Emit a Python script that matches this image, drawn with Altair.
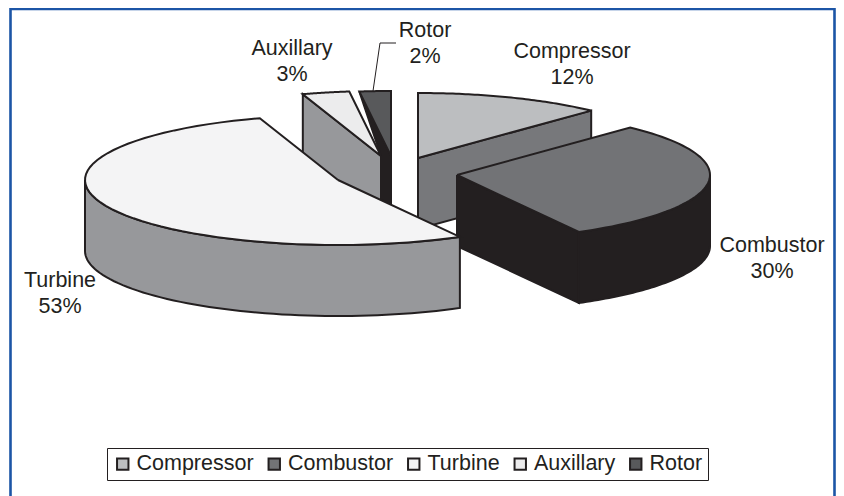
import math
import altair as alt
import pandas as pd

# ---- values ----
parts = ["Compressor", "Combustor", "Turbine", "Auxillary", "Rotor"]
shares = [12, 30, 53, 3, 2]

# ---- styling / layout ----
top_colors = ["#bcbec0", "#727376", "#f4f4f5", "#ececed", "#58595b"]
INK = "#231f20"
BLUE = "#1c55a6"
FONT = "Arial"
FS = 21.5
W, H = 828, 488
RX, RY, DEPTH = 253, 65, 71
apex = {"Compressor": (418, 158), "Combustor": (457, 175), "Turbine": (338, 180),
        "Auxillary": (381, 156), "Rotor": (391, 156)}
label_pos = {"Compressor": (572, 51.5), "Combustor": (772, 245.5), "Turbine": (60, 280.5),
             "Auxillary": (292, 48.5), "Rotor": (425, 30.5)}
LINE_GAP = 26.5

# ---- slice angles from the shares ----
angles = {}
acc = 0.0
for p, s in zip(parts, shares):
    angles[p] = (acc * 3.6, (acc + s) * 3.6)
    acc += s


def rim(p, a0, a1, dy=0.0, n=60):
    cx, cy = apex[p]
    out = []
    for k in range(n + 1):
        t = math.radians(a0 + (a1 - a0) * k / n)
        out.append((cx + RX * math.sin(t), cy - RY * math.cos(t) + dy))
    return out


def table(pts, name="s"):
    pts = list(pts) + [pts[0]]
    return pd.DataFrame({"x": [a for a, _ in pts], "y": [b for _, b in pts],
                         "i": range(len(pts)), "part": name})


def drop(pts):
    return [(a, b + DEPTH) for a, b in pts]


x_scale = alt.Scale(domain=[8, 8 + W], range=[0, W], nice=False, zero=False)
y_scale = alt.Scale(domain=[8 + H, 8], range=[H, 0], nice=False, zero=False)
X = alt.X("x:Q", scale=x_scale, axis=None)
Y = alt.Y("y:Q", scale=y_scale, axis=None)


def face(pts, color, sw=2):
    return alt.Chart(table(pts)).mark_line(fill=color, stroke=INK, strokeWidth=sw, strokeJoin="miter").encode(
        x=X, y=Y, order="i:Q")


def radial(p, angle):
    e = rim(p, angle, angle, n=1)[0]
    return [apex[p], e, (e[0], e[1] + DEPTH), (apex[p][0], apex[p][1] + DEPTH)]


side_layers = []
side_layers.append(face(radial("Compressor", angles["Compressor"][1]), "#77787b"))
a0, a1 = angles["Combustor"]
side_layers.append(face(radial("Combustor", a1), INK))
wall = rim("Combustor", 90, a1)
side_layers.append(face(wall + drop(wall)[::-1], INK))
r0 = rim("Rotor", angles["Rotor"][0], angles["Rotor"][0], n=1)[0]
ax, ay = apex["Auxillary"]
rx_, ry_ = apex["Rotor"]
side_layers.append(face([r0, (rx_, ry_), (rx_, ry_ + DEPTH), (ax, ay + DEPTH), (ax, ay)], INK))
side_layers.append(face(radial("Auxillary", angles["Auxillary"][0]), "#97989b"))
a0, a1 = angles["Turbine"]
wall = rim("Turbine", a0, 270)
side_layers.append(face(wall + drop(wall)[::-1], "#97989b"))

tops = pd.concat([table([apex[p]] + rim(p, *angles[p]), p) for p in parts], ignore_index=True)
top_layer = alt.Chart(tops).mark_line(stroke=INK, strokeWidth=2, strokeJoin="miter").encode(
    x=X, y=Y, order="i:Q",
    fill=alt.Fill("part:N", scale=alt.Scale(domain=parts, range=top_colors),
                  legend=alt.Legend(orient="none", legendX=99, legendY=440, direction="horizontal",
                                    columns=5, title=None, symbolType="square", symbolSize=130,
                                    symbolStrokeColor=INK, symbolStrokeWidth=2, symbolOpacity=1,
                                    labelFont=FONT, labelFontSize=FS, labelColor=INK, labelOffset=3,
                                    columnPadding=9.5, padding=5, strokeColor=INK, fillColor="white",
                                    labelLimit=200)))

leader = alt.Chart(pd.DataFrame({"x": [396, 380, 373], "y": [43, 43, 91], "i": [0, 1, 2]})).mark_line(
    stroke=INK, strokeWidth=1).encode(x=X, y=Y, order="i:Q")

frame = alt.Chart(pd.DataFrame({"x": [10.5, 10.5, 834.5, 834.5], "y": [496, 9, 9, 496], "i": range(4)})).mark_line(
    stroke=BLUE, strokeWidth=2.6, strokeJoin="miter").encode(x=X, y=Y, order="i:Q")

rows = []
for p, s in zip(parts, shares):
    lx, ly = label_pos[p]
    rows.append({"x": lx, "y": ly, "t": p})
    rows.append({"x": lx, "y": ly + LINE_GAP, "t": f"{s}%"})
labels = alt.Chart(pd.DataFrame(rows)).mark_text(font=FONT, fontSize=FS, color=INK, align="center",
                                                 baseline="middle").encode(x=X, y=Y, text="t:N")

chart = alt.layer(frame, *side_layers, top_layer, leader, labels).properties(
    width=W, height=H, padding=0, autosize=alt.AutoSizeParams(type="none"),
    background="white").configure_view(stroke=None)

chart.save("out.html", embed_options={"renderer": "svg", "actions": False})
